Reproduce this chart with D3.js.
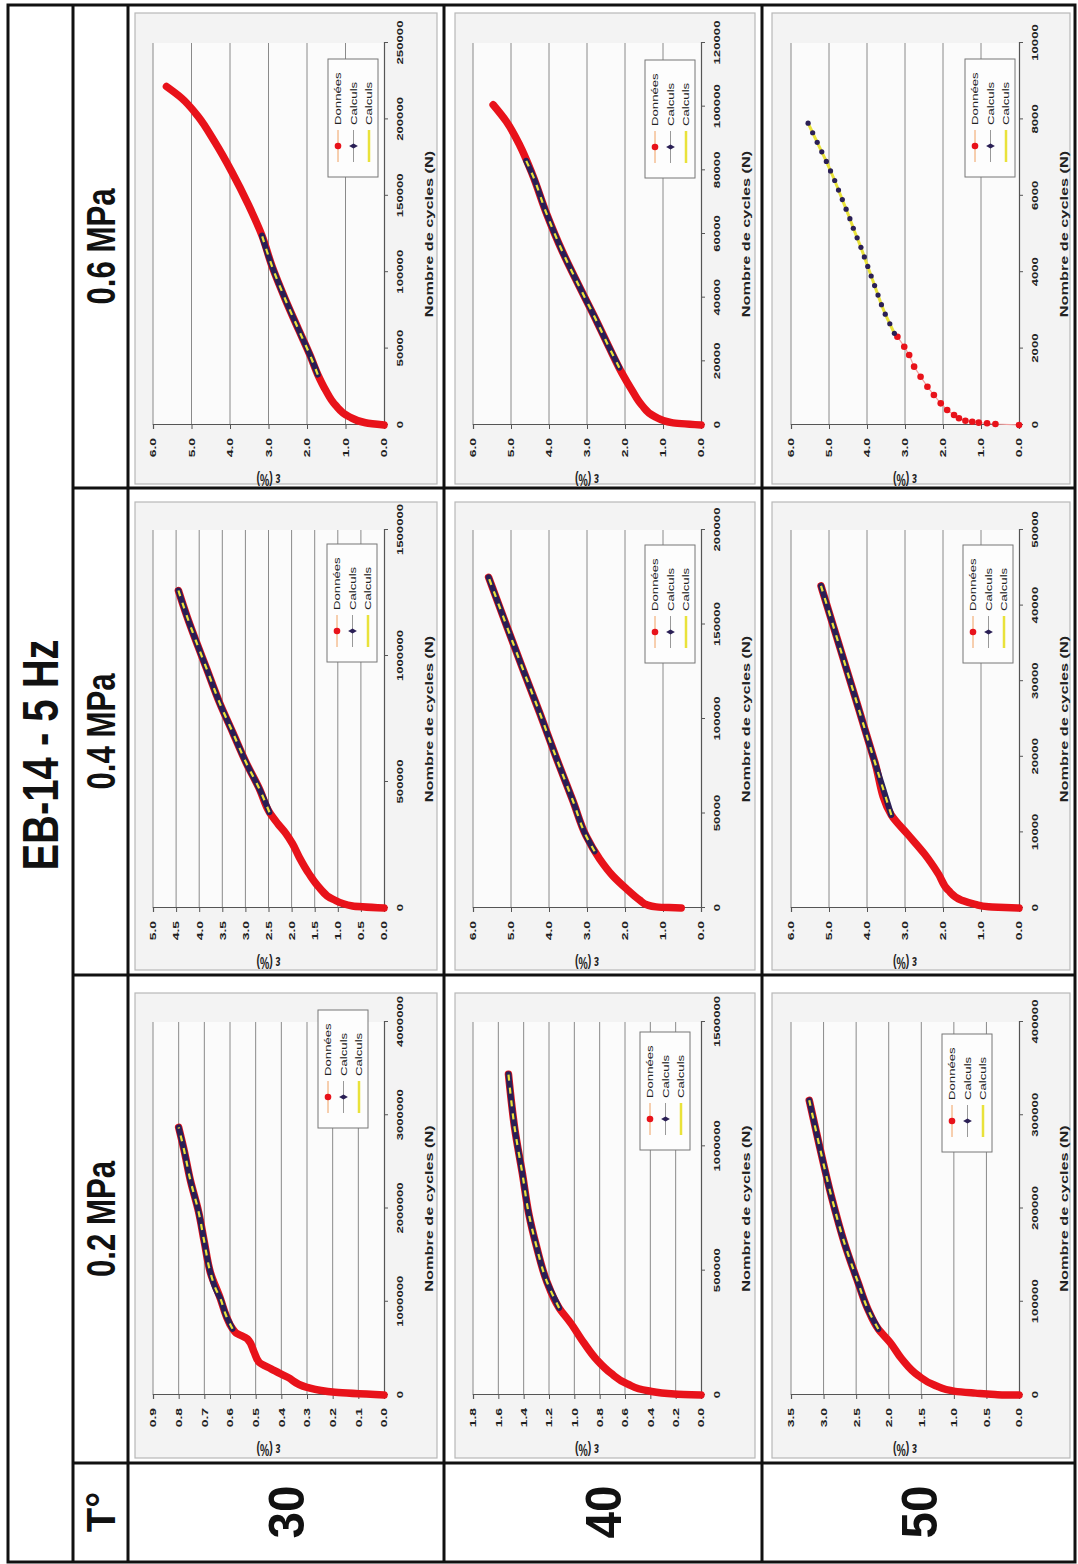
<!DOCTYPE html>
<html><head><meta charset="utf-8">
<script src="https://cdn.jsdelivr.net/npm/d3@7"></script>
<style>body{margin:0;background:#fff}svg{display:block}</style>
</head><body>
<svg id="c" width="1078" height="1564"></svg>
<script>
// ---------- texts ----------
const title = "EB-14 - 5 Hz";
const headerT = "T°";
const temps = ["30", "40", "50"];
const pressures = ["0.2 MPa", "0.4 MPa", "0.6 MPa"];
const xAxisTitle = "Nombre de cycles (N)";
const yAxisTitle = "ε (%)";
const legendLabels = ["Données", "Calculs", "Calculs"];

// ---------- tick values ----------
const epsTicks_30_02 = [0, 0.1, 0.2, 0.3, 0.4, 0.5, 0.6, 0.7, 0.8, 0.9];
const nTicks_30_02 = [0, 1000000, 2000000, 3000000, 4000000];
const epsTicks_30_04 = [0, 0.5, 1.0, 1.5, 2.0, 2.5, 3.0, 3.5, 4.0, 4.5, 5.0];
const nTicks_30_04 = [0, 500000, 1000000, 1500000];
const epsTicks_30_06 = [0, 1, 2, 3, 4, 5, 6];
const nTicks_30_06 = [0, 50000, 100000, 150000, 200000, 250000];
const epsTicks_40_02 = [0, 0.2, 0.4, 0.6, 0.8, 1.0, 1.2, 1.4, 1.6, 1.8];
const nTicks_40_02 = [0, 500000, 1000000, 1500000];
const epsTicks_40_04 = [0, 1, 2, 3, 4, 5, 6];
const nTicks_40_04 = [0, 50000, 100000, 150000, 200000];
const epsTicks_40_06 = [0, 1, 2, 3, 4, 5, 6];
const nTicks_40_06 = [0, 20000, 40000, 60000, 80000, 100000, 120000];
const epsTicks_50_02 = [0, 0.5, 1.0, 1.5, 2.0, 2.5, 3.0, 3.5];
const nTicks_50_02 = [0, 100000, 200000, 300000, 400000];
const epsTicks_50_04 = [0, 1, 2, 3, 4, 5, 6];
const nTicks_50_04 = [0, 10000, 20000, 30000, 40000, 50000];
const epsTicks_50_06 = [0, 1, 2, 3, 4, 5, 6];
const nTicks_50_06 = [0, 2000, 4000, 6000, 8000, 10000];

// ---------- series [N, eps%] ----------
const don_30_02 = [[0,0],[29000,0.19],[82000,0.30],[190000,0.375],[280000,0.44],[350000,0.486],[460000,0.506],[600000,0.532],[670000,0.578],[710000,0.59],[850000,0.615],[1030000,0.637],[1310000,0.676],[1640000,0.70],[1960000,0.722],[2310000,0.755],[2640000,0.78],[2870000,0.80]];
const calc_30_02 = [[710000,0.59],[850000,0.615],[1030000,0.637],[1140000,0.656],[1310000,0.676],[1640000,0.70],[1960000,0.722],[2310000,0.755],[2640000,0.78],[2870000,0.80]];

const don_30_04 = [[0,0],[8000,0.68],[35000,1.11],[81000,1.40],[135000,1.62],[200000,1.83],[255000,1.98],[295000,2.12],[335000,2.30],[380000,2.48],[470000,2.69],[575000,2.98],[695000,3.27],[815000,3.56],[950000,3.84],[1055000,4.06],[1160000,4.27],[1260000,4.45]];
const calc_30_04 = [[380000,2.48],[470000,2.69],[575000,2.98],[695000,3.27],[815000,3.56],[950000,3.84],[1055000,4.06],[1160000,4.27],[1260000,4.45]];

const don_30_06 = [[0,0],[1500,0.48],[5500,0.91],[13000,1.26],[23000,1.52],[33000,1.72],[45000,1.91],[62500,2.22],[82000,2.56],[104000,2.91],[124000,3.17],[144000,3.52],[166000,3.96],[185000,4.39],[202000,4.83],[214000,5.26],[221500,5.65]];
const calc_30_06 = [[33000,1.72],[45000,1.91],[62500,2.22],[82000,2.56],[104000,2.91],[124000,3.17]];

const don_40_02 = [[0,0],[4000,0.21],[17000,0.42],[44000,0.58],[87000,0.71],[140000,0.82],[210000,0.925],[290000,1.03],[350000,1.12],[460000,1.22],[600000,1.30],[730000,1.36],[890000,1.41],[1070000,1.47],[1290000,1.52]];
const calc_40_02 = [[350000,1.12],[460000,1.22],[600000,1.30],[730000,1.36],[890000,1.41],[1070000,1.47],[1290000,1.52]];

const don_40_04 = [[0,0.52],[200,0.84],[600,1.18],[1500,1.40],[4300,1.62],[10300,1.97],[17000,2.32],[26000,2.67],[38000,3.02],[56700,3.37],[79000,3.80],[103000,4.24],[126000,4.68],[149000,5.11],[175000,5.59]];
const calc_40_04 = [[30000,2.80],[38000,3.02],[56700,3.37],[79000,3.80],[103000,4.24],[126000,4.68],[149000,5.11],[175000,5.59]];

const don_40_06 = [[0,0],[730,0.77],[2600,1.21],[6300,1.56],[11000,1.82],[16300,2.08],[24700,2.43],[33200,2.77],[43700,3.21],[54300,3.64],[66900,4.08],[78500,4.43],[87900,4.77],[95300,5.12],[100600,5.47]];
const calc_40_06 = [[18000,2.15],[24700,2.43],[33200,2.77],[43700,3.21],[54300,3.64],[66900,4.08],[78500,4.43],[83000,4.60]];

const don_50_02 = [[0,0],[0,0.18],[500,0.37],[2000,0.67],[3900,0.98],[10300,1.29],[21000,1.55],[38700,1.80],[56500,1.98],[70700,2.16],[92000,2.32],[120500,2.47],[163000,2.68],[213000,2.88],[266000,3.06],[316000,3.22]];
const calc_50_02 = [[70700,2.16],[92000,2.32],[120500,2.47],[163000,2.68],[213000,2.88],[266000,3.06],[316000,3.22]];

const don_50_04 = [[0,0],[100,0.54],[170,0.80],[480,1.15],[1040,1.51],[2340,1.86],[4500,2.12],[7100,2.48],[9700,2.92],[12300,3.36],[19400,3.80],[26700,4.24],[33900,4.68],[42600,5.21]];
const calc_50_04 = [[12300,3.36],[19400,3.80],[26700,4.24],[33900,4.68],[42600,5.21]];

const don_50_06 = [[0,0],[26,0.62],[44,0.84],[61,1.06],[87,1.23],[113,1.41],[175,1.58],[262,1.71],[393,1.89],[567,2.06],[785,2.24],[1003,2.41],[1265,2.59],[1527,2.76],[1833,2.89],[2050,3.02],[2312,3.20]];
const calc_50_06 = [[2400,3.28],[2650,3.40],[2900,3.52],[3150,3.62],[3400,3.71],[3650,3.80],[3900,3.89],[4150,3.98],[4400,4.07],[4650,4.16],[4900,4.26],[5150,4.36],[5400,4.45],[5650,4.55],[5900,4.65],[6150,4.75],[6400,4.85],[6650,4.96],[6900,5.07],[7150,5.19],[7400,5.31],[7650,5.43],[7900,5.55]];

// ---------- layout (unrotated frame: u horizontal 0..1564, v vertical 0..1078) ----------
const W = 1564, H = 1078;
const colEdges = [2, 101, 589, 1076, 1559];
const rowEdges = [8, 73, 128, 444, 762, 1075];
const plotU = [[169, 542], [656, 1034], [1139, 1521]];
const plotV = [[153, 384], [473, 701], [791, 1019]];
const panelU = [[106, 571], [594, 1062], [1080, 1551]];
const panelV = [[135, 437], [455, 755], [772, 1070]];
const legendBoxes = [
  [[436, 318], [902, 327], [1387, 328]],
  [[414, 640], [901, 645], [1386, 645]],
  [[412, 942], [901, 963], [1387, 965]]
];

const charts = [
  {r:0,c:0,don:don_30_02,calc:calc_30_02,eT:epsTicks_30_02,nT:nTicks_30_02},
  {r:0,c:1,don:don_30_04,calc:calc_30_04,eT:epsTicks_30_04,nT:nTicks_30_04},
  {r:0,c:2,don:don_30_06,calc:calc_30_06,eT:epsTicks_30_06,nT:nTicks_30_06},
  {r:1,c:0,don:don_40_02,calc:calc_40_02,eT:epsTicks_40_02,nT:nTicks_40_02},
  {r:1,c:1,don:don_40_04,calc:calc_40_04,eT:epsTicks_40_04,nT:nTicks_40_04},
  {r:1,c:2,don:don_40_06,calc:calc_40_06,eT:epsTicks_40_06,nT:nTicks_40_06},
  {r:2,c:0,don:don_50_02,calc:calc_50_02,eT:epsTicks_50_02,nT:nTicks_50_02},
  {r:2,c:1,don:don_50_04,calc:calc_50_04,eT:epsTicks_50_04,nT:nTicks_50_04},
  {r:2,c:2,don:don_50_06,calc:calc_50_06,eT:epsTicks_50_06,nT:nTicks_50_06,sparse:true}
];

const RED = "#e8121a", NAVY = "#2a1f55", YEL = "#e9e23a";
const FONT = "'Liberation Sans', Arial, sans-serif";
const SX = 1.55; // horizontal stretch of the pasted chart pictures

const svg = d3.select("#c");
const root = svg.append("g").attr("transform", `translate(0,${1564}) rotate(-90)`);
root.append("rect").attr("width", W).attr("height", H).attr("fill", "#fff");

// ---------- charts ----------
charts.forEach(ch => {
  const [u0, u1] = plotU[ch.c], [v0, v1] = plotV[ch.r];
  const g = root.append("g");
  const [pu0, pu1] = panelU[ch.c], [pv0, pv1] = panelV[ch.r];
  g.append("rect").attr("x", pu0).attr("y", pv0).attr("width", pu1 - pu0).attr("height", pv1 - pv0)
    .attr("fill", "#f3f3f3").attr("stroke", "#b8b8b8").attr("stroke-width", 1.2);
  g.append("rect").attr("x", u0).attr("y", v0).attr("width", u1 - u0).attr("height", v1 - v0)
    .attr("fill", "#fbfbfb");

  const x = d3.scaleLinear().domain([0, d3.max(ch.nT)]).range([u0, u1]);
  const y = d3.scaleLinear().domain([0, d3.max(ch.eT)]).range([v1, v0]);

  g.selectAll(".grid").data(ch.eT.filter(d => d > 0)).join("line")
    .attr("x1", u0).attr("x2", u1).attr("y1", d => y(d)).attr("y2", d => y(d))
    .attr("stroke", "#8a8a8a").attr("stroke-width", 1);

  const ax = g.append("g").attr("transform", `translate(0,${v1})`)
    .call(d3.axisBottom(x).tickValues(ch.nT).tickFormat(d3.format("d")).tickSize(4).tickPadding(9));
  const ay = g.append("g").attr("transform", `translate(${u0},0)`)
    .call(d3.axisLeft(y).tickValues(ch.eT).tickFormat(d3.format(".1f")).tickSize(4));
  [ax, ay].forEach(a => {
    a.select(".domain").attr("stroke", "#555").attr("stroke-width", 1.2);
    a.selectAll(".tick line").attr("stroke", "#555");
    a.selectAll("text").attr("font-family", FONT).attr("font-weight", "bold").attr("fill", "#222");
  });
  ax.selectAll("text").attr("font-size", 8.5).attr("transform", `scale(${SX},1)`);
  ay.selectAll("text").attr("font-size", 9).attr("x", -13 / SX).attr("transform", `scale(${SX},1)`);

  g.append("text").attr("transform", `translate(${(u0 + u1) / 2},${v1 + 49}) scale(${SX},1)`)
    .attr("text-anchor", "middle").attr("font-family", FONT).attr("font-weight", "bold")
    .attr("font-size", 10.5).attr("fill", "#222").text(xAxisTitle);
  g.append("text").attr("transform", `translate(${u0 - 49},${(v0 + v1) / 2}) scale(${SX},1) rotate(-90)`)
    .attr("text-anchor", "middle").attr("font-family", FONT).attr("font-weight", "bold")
    .attr("font-size", 10.5).attr("fill", "#222").text(yAxisTitle);

  const line = d3.line().x(d => x(d[0])).y(d => y(d[1]));

  if (!ch.sparse) {
    g.append("path").datum(ch.don).attr("d", line.curve(d3.curveMonotoneX))
      .attr("fill", "none").attr("stroke", RED).attr("stroke-width", 7.5)
      .attr("stroke-linecap", "round").attr("stroke-linejoin", "round");
    g.append("path").datum(ch.calc).attr("d", line.curve(d3.curveMonotoneX))
      .attr("fill", "none").attr("stroke", NAVY).attr("stroke-width", 6)
      .attr("stroke-linecap", "round");
    g.append("path").datum(ch.calc).attr("d", line.curve(d3.curveMonotoneX))
      .attr("fill", "none").attr("stroke", YEL).attr("stroke-width", 2.2)
      .attr("stroke-dasharray", "6,7");
  } else {
    g.append("path").datum(ch.don).attr("d", line.curve(d3.curveLinear))
      .attr("fill", "none").attr("stroke", "#f2a0a0").attr("stroke-width", 1.2);
    g.selectAll(".dd").data(ch.don).join("circle")
      .attr("cx", d => x(d[0])).attr("cy", d => y(d[1])).attr("r", 3.3).attr("fill", RED);
    g.append("path").datum(ch.calc).attr("d", line.curve(d3.curveLinear))
      .attr("fill", "none").attr("stroke", YEL).attr("stroke-width", 3);
    g.selectAll(".cd").data(ch.calc).join("circle")
      .attr("cx", d => x(d[0])).attr("cy", d => y(d[1])).attr("r", 2.6).attr("fill", NAVY);
  }

  const [lu, lv] = legendBoxes[ch.r][ch.c];
  const lg = g.append("g").attr("transform", `translate(${lu},${lv})`);
  lg.append("rect").attr("width", 118).attr("height", 50).attr("fill", "#fdfdfd")
    .attr("stroke", "#777").attr("stroke-width", 1);
  const lc = [["#f0a060", RED, "circle"], ["#999", NAVY, "diamond"], [YEL, YEL, "none"]];
  legendLabels.forEach((t, i) => {
    const yy = 10 + i * 15.5;
    lg.append("line").attr("x1", 15).attr("x2", 47).attr("y1", yy).attr("y2", yy)
      .attr("stroke", lc[i][0]).attr("stroke-width", i == 2 ? 2.5 : 1);
    if (lc[i][2] === "circle")
      lg.append("circle").attr("cx", 31).attr("cy", yy).attr("r", 3.3).attr("fill", lc[i][1]);
    else if (lc[i][2] === "diamond")
      lg.append("path").attr("d", d3.symbol(d3.symbolDiamond, 22)()).attr("transform", `translate(31,${yy})`).attr("fill", lc[i][1]);
    lg.append("text").attr("transform", `translate(52,${yy + 3}) scale(${SX},1)`).attr("font-family", FONT)
      .attr("font-size", 8.5).attr("fill", "#222").text(t);
  });
});

// ---------- table ----------
const tbl = root.append("g").attr("stroke", "#111").attr("stroke-width", 3).attr("fill", "none");
tbl.append("rect").attr("x", colEdges[0]).attr("y", rowEdges[0])
  .attr("width", colEdges[4] - colEdges[0]).attr("height", rowEdges[5] - rowEdges[0]);
tbl.append("line").attr("x1", colEdges[0]).attr("x2", colEdges[4]).attr("y1", rowEdges[1]).attr("y2", rowEdges[1]);
[2, 3, 4].forEach(i => tbl.append("line").attr("x1", colEdges[0]).attr("x2", colEdges[4]).attr("y1", rowEdges[i]).attr("y2", rowEdges[i]));
[1, 2, 3].forEach(i => tbl.append("line").attr("x1", colEdges[i]).attr("x2", colEdges[i]).attr("y1", rowEdges[1]).attr("y2", rowEdges[5]));

function bigText(t, u, v, size, sx) {
  root.append("text").attr("transform", `translate(${u},${v}) scale(${sx},1)`)
    .attr("text-anchor", "middle").attr("font-family", FONT).attr("font-weight", "bold")
    .attr("font-size", size).attr("fill", "#111").text(t);
}
bigText(title, 809, 58, 50, 0.8);
bigText(headerT, 52, 115, 40, 1);
pressures.forEach((p, i) => bigText(p, (colEdges[i + 1] + colEdges[i + 2]) / 2, 115, 40, 0.78));
temps.forEach((t, i) => bigText(t, 52, (rowEdges[i + 2] + rowEdges[i + 3]) / 2 + 18, 50, 0.95));
</script>
</body></html>
